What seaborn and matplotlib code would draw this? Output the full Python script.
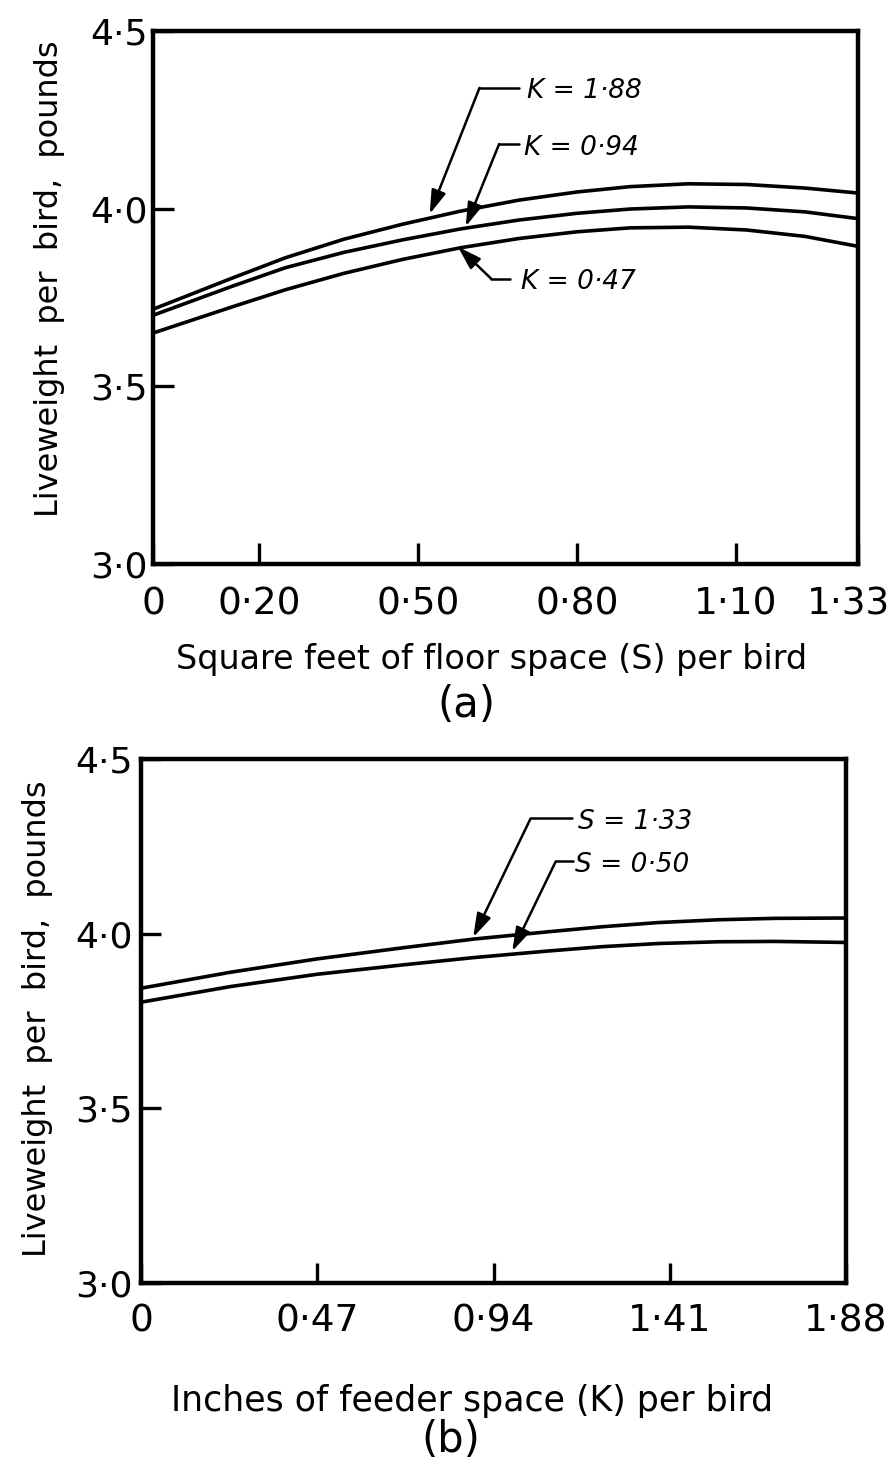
import matplotlib
matplotlib.use("Agg")
import matplotlib.pyplot as plt
from matplotlib.transforms import ScaledTranslation
import seaborn as sns
import pandas as pd

# ── panel (a): liveweight vs floor space S, one curve per feeder space K ──
S_VALUES = [0.00, 0.15, 0.25, 0.36, 0.47, 0.58, 0.69, 0.80, 0.90, 1.01, 1.12, 1.23, 1.33]
W_K188 = [3.717, 3.805, 3.862, 3.914, 3.956, 3.993, 4.024, 4.047, 4.062, 4.070, 4.068, 4.058, 4.044]
W_K094 = [3.700, 3.782, 3.834, 3.877, 3.912, 3.943, 3.968, 3.987, 3.999, 4.005, 4.002, 3.991, 3.972]
W_K047 = [3.650, 3.724, 3.772, 3.818, 3.857, 3.890, 3.916, 3.935, 3.946, 3.948, 3.940, 3.922, 3.894]
S_TICKS = [0.0, 0.20, 0.50, 0.80, 1.10, 1.33]
S_TICKLABELS = ["0", "0·20", "0·50", "0·80", "1·10", "1·33"]

# ── panel (b): liveweight vs feeder space K, one curve per floor space S ──
K_VALUES = [0.00, 0.24, 0.47, 0.70, 0.89, 1.08, 1.23, 1.38, 1.54, 1.69, 1.88]
W_S133 = [3.844, 3.890, 3.928, 3.960, 3.985, 4.005, 4.020, 4.032, 4.040, 4.044, 4.045]
W_S050 = [3.804, 3.849, 3.884, 3.911, 3.932, 3.950, 3.963, 3.972, 3.977, 3.978, 3.975]
K_TICKS = [0.0, 0.47, 0.94, 1.41, 1.88]
K_TICKLABELS = ["0", "0·47", "0·94", "1·41", "1·88"]

Y_TICKS = [3.0, 3.5, 4.0, 4.5]
Y_TICKLABELS = ["3·0", "3·5", "4·0", "4·5"]

LABELS_A = ["K = 1·88", "K = 0·94", "K = 0·47"]
LABELS_B = ["S = 1·33", "S = 0·50"]

sns.set_style("white")
plt.rcParams["font.family"] = ["DejaVu Sans"]
plt.rcParams.update({"text.color": "black", "axes.labelcolor": "black",
                     "xtick.color": "black", "ytick.color": "black"})

df_a = pd.concat([
    pd.DataFrame({"x": S_VALUES, "w": W_K188, "curve": LABELS_A[0]}),
    pd.DataFrame({"x": S_VALUES, "w": W_K094, "curve": LABELS_A[1]}),
    pd.DataFrame({"x": S_VALUES, "w": W_K047, "curve": LABELS_A[2]}),
])
df_b = pd.concat([
    pd.DataFrame({"x": K_VALUES, "w": W_S133, "curve": LABELS_B[0]}),
    pd.DataFrame({"x": K_VALUES, "w": W_S050, "curve": LABELS_B[1]}),
])

fig = plt.figure(figsize=(8.96, 14.62), dpi=100, facecolor="white")
ax_a = fig.add_axes([153 / 896, 0.6142, 705 / 896, 0.3646])
ax_b = fig.add_axes([141 / 896, 0.1224, 705 / 896, 0.3584])


def style_axes(ax, df, xmax, xticks, xticklabels, xpad, ypad, ticklen,
               xlabel, xlab_size, xlab_xy, tag, tag_xy, ylab_xy):
    sns.lineplot(data=df, x="x", y="w", hue="curve", units="curve", estimator=None,
                 sort=False, palette=["black"] * df["curve"].nunique(),
                 linewidth=2.6, legend=False, ax=ax)
    for ln in ax.lines:
        ln.set_solid_joinstyle("round")
        ln.set_solid_capstyle("round")
    ax.set_xlim(0, xmax)
    ax.set_ylim(3.0, 4.5)
    ax.set_xticks(xticks)
    ax.set_xticklabels(xticklabels)
    ax.set_yticks(Y_TICKS)
    ax.set_yticklabels(Y_TICKLABELS)
    for sp in ax.spines.values():
        sp.set_visible(True)
        sp.set_linewidth(3.2)
        sp.set_color("black")
    ax.tick_params(axis="x", which="both", bottom=True, top=False, direction="in",
                   length=ticklen, width=2.4, pad=xpad, labelsize=27)
    ax.tick_params(axis="y", which="both", left=True, right=False, direction="in",
                   length=ticklen, width=2.4, pad=ypad, labelsize=26)
    ax.set_xlabel(xlabel, fontsize=xlab_size)
    ax.xaxis.set_label_coords(*xlab_xy)
    ax.set_ylabel("Liveweight  per  bird,  pounds", fontsize=23)
    ax.yaxis.set_label_coords(*ylab_xy)
    ax.text(tag_xy[0], tag_xy[1], tag, transform=ax.transAxes, fontsize=30,
            ha="center", va="center")


def leader(ax, label, text_xy, line_end, corner, tip):
    ax.text(text_xy[0], text_xy[1], label, fontsize=19, style="italic",
            ha="left", va="center")
    ax.plot([line_end, corner[0]], [corner[1], corner[1]], color="black", lw=1.8)
    ax.annotate("", xy=tip, xytext=corner,
                arrowprops=dict(arrowstyle="-|>,head_length=0.9,head_width=0.28",
                                color="black", lw=1.8, mutation_scale=16,
                                shrinkA=0, shrinkB=0))


style_axes(ax_a, df_a, 1.33, S_TICKS, S_TICKLABELS, 16.5, 3.6, 15,
           "Square feet of floor space (S) per bird", 24, (0.480, -0.148),
           "(a)", (0.445, -0.2645), (-0.125, 0.535))
style_axes(ax_b, df_b, 1.88, K_TICKS, K_TICKLABELS, 14.5, 6, 14.5,
           "Inches of feeder space (K) per bird", 25, (0.469, -0.193),
           "(b)", (0.440, -0.2996), (-0.125, 0.504))

# keep the right-most label of panel (a) inside the canvas
last = ax_a.get_xticklabels()[-1]
last.set_transform(last.get_transform() + ScaledTranslation(-7 / 72, 0, fig.dpi_scale_trans))

leader(ax_a, LABELS_A[0], (0.705, 4.33), 0.690, (0.616, 4.34), (0.522, 3.985))
leader(ax_a, LABELS_A[1], (0.700, 4.172), 0.690, (0.653, 4.182), (0.590, 3.950))
leader(ax_a, LABELS_A[2], (0.694, 3.795), 0.674, (0.638, 3.803), (0.575, 3.893))

leader(ax_b, LABELS_B[0], (1.164, 4.32), 1.150, (1.039, 4.33), (0.886, 3.990))
leader(ax_b, LABELS_B[1], (1.158, 4.197), 1.152, (1.106, 4.207), (0.990, 3.950))

fig.savefig("out.png", dpi=100, facecolor="white")
